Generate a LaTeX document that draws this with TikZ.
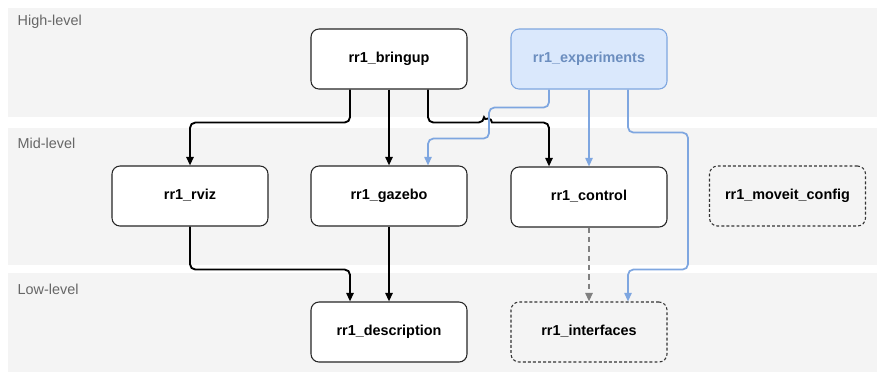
\documentclass[tikz,border=0pt]{standalone}
\usepackage{fontspec}
\setmainfont{Liberation Sans}
\usepackage{xcolor}
\usepackage{tikz}
\usetikzlibrary{arrows.meta, positioning}

\definecolor{bandgray}{HTML}{F4F4F4}
\definecolor{lvltext}{HTML}{666666}
\definecolor{expfill}{HTML}{DAE8FC}
\definecolor{expline}{HTML}{7EA6E0}
\definecolor{exptext}{HTML}{6C8EBF}
\definecolor{optline}{HTML}{808080}

\begin{document}
\begin{tikzpicture}[
			x=0.75pt, y=-0.75pt,
			band/.style={fill=bandgray, draw=none},
			lvl/.style={anchor=west, text=lvltext, font=\fontsize{10.8}{12}\selectfont},
			pkg/.style={rectangle, rounded corners=6pt, draw=black!85, line width=0.8pt, fill=white,
				minimum width=117pt, minimum height=45pt, text height=0.78em, text depth=0.22em,
				font=\bfseries\fontsize{10.8}{12}\selectfont},
			optpkg/.style={pkg, fill=none, draw=black!80, dash pattern=on 2.2pt off 1.6pt},
			exppkg/.style={pkg, fill=expfill, draw=expline, text=exptext},
			dep/.style={-{Triangle[length=6.5pt, width=5.5pt]}, line width=1.4pt, rounded corners=4pt},
			expdep/.style={dep, draw=expline, line width=1.3pt},
			optdep/.style={dep, draw=optline, dash pattern=on 4pt off 3pt}
			]
			\fill[white] (0,0) rectangle (885,380);
			\useasboundingbox (0,0) rectangle (885,380);
			
			% level bands
			\fill[band] (8,8) rectangle (877,117);
			\fill[band] (8,128) rectangle (877,265);
			\fill[band] (8,273) rectangle (877,372);
			\node[lvl] (high) at (13,22) {High-level};
			\node[lvl] (mid) at (13,143) {Mid-level};
			\node[lvl] (low) at (13,289) {Low-level};
			
			\node[pkg] (bringup) at (389,59) {rr1\_bringup};
			\node[exppkg] (experiments) at (589,59) {rr1\_experiments};
			\node[pkg] (rviz) at (190,196) {rr1\_rviz};
			\node[pkg] (gazebo) at (389,196) {rr1\_gazebo};
			\node[pkg] (control) at (589,197) {rr1\_control};
			\node[optpkg] (moveit) at (787.5,196) {rr1\_moveit\_config};
			\node[pkg] (description) at (389,332) {rr1\_description};
			\node[optpkg] (interfaces) at (589,332) {rr1\_interfaces};
			
			\draw[dep] ([xshift=-29.25pt]bringup.south) -- ++(0,33) -| (rviz.north);
			\draw[dep] (bringup) -- (gazebo);
			% hop over the blue line
			\draw[dep] ([xshift=29.25pt]bringup.south) -- ++(0,33) -- ++(56,0) [sharp corners]
				arc[start angle=180, end angle=0, radius=3pt] [rounded corners=4pt] -| ([xshift=-30pt]control.north);
			
			\draw[expdep] ([xshift=-30pt]experiments.south) -- ++(0,18) -- ++(-60,0) -- ++(0,31)
				-| ([xshift=29.25pt]gazebo.north);
			\draw[expdep] (experiments) -- (control);
			\draw[expdep] ([xshift=29.25pt]experiments.south) -- ++(0,43) -- ++(60,0) -- ++(0,137)
				-| ([xshift=29.25pt]interfaces.north);
			
			\draw[dep] (rviz.south) -- ++(0,43) -| ([xshift=-29.25pt]description.north);
			\draw[dep] (gazebo) -- (description);
			\draw[optdep] (control) -- (interfaces);
		\end{tikzpicture}
\end{document}
